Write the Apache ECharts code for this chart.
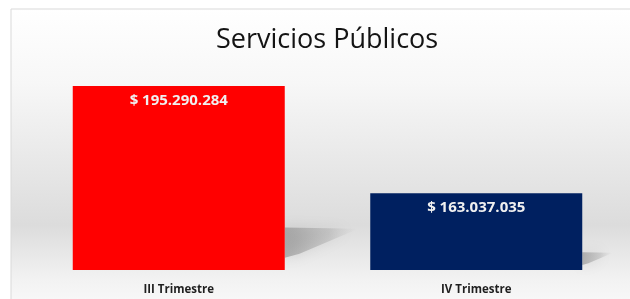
<!DOCTYPE html>
<html lang="es">

<head>
    <meta charset="utf-8" />
    <title>Servicios Públicos</title>
    <script src="https://cdn.jsdelivr.net/npm/echarts@6/dist/echarts.min.js"></script>
    <style>
        html,
        body {
            margin: 0;
            padding: 0;
            background: #ffffff;
        }

        #grafico {
            width: 630px;
            height: 299px;
        }
    </style>
</head>

<body>
    <div id="grafico"></div>

    <script>
        // datos
        var titulo = 'Servicios Públicos';
        var trimestres = ['III Trimestre', 'IV Trimestre'];
        var montos = [195290284, 163037035];
        var colores = ['#ff0000', '#002060'];

        // eje oculto, no empieza en cero
        var ejeMin = 140000000;
        var ejeMax = 203100000;

        function formatoPesos(v) {
            return '$ ' + String(v).replace(/\B(?=(\d{3})+(?!\d))/g, '.');
        }

        var myChart = echarts.init(document.getElementById('grafico'));

        // sombra en perspectiva detras de cada barra
        function dibujarSombra(params, api) {
            var idx = api.value(0);
            var tope = api.coord([idx, api.value(1)]);
            var base = api.coord([idx, ejeMin]);
            var ancho = api.size([1, 0])[0] * 0.713;
            var alto = base[1] - tope[1];
            var der = tope[0] + ancho / 2;
            var dx = alto * 0.4;
            var dy = alto * 0.22;
            return {
                type: 'polygon',
                shape: {
                    points: [
                        [der, base[1] - dy * 1.05],
                        [der + dx, base[1] - dy * 1.02],
                        [der + dx * 0.2, base[1] - dy * 0.4],
                        [der, base[1] - dy * 0.3]
                    ]
                },
                style: {
                    fill: new echarts.graphic.LinearGradient(0, 0, 1, 0, [
                        { offset: 0, color: 'rgba(110,110,110,0.45)' },
                        { offset: 0.6, color: 'rgba(130,130,130,0.25)' },
                        { offset: 1, color: 'rgba(170,170,170,0)' }
                    ]),
                    shadowBlur: 14,
                    shadowColor: 'rgba(110,110,110,0.45)'
                },
                z2: 0
            };
        }

        var option = {
            animation: false,
            backgroundColor: '#ffffff',
            graphic: [{
                type: 'rect',
                z: -10,
                shape: { x: 11, y: 9, width: 640, height: 300 },
                style: {
                    stroke: '#d9d9d9',
                    lineWidth: 1,
                    fill: new echarts.graphic.LinearGradient(0, 0, 0, 1, [
                        { offset: 0, color: '#ffffff' },
                        { offset: 0.25, color: '#f7f7f7' },
                        { offset: 0.72, color: '#dcdcdc' },
                        { offset: 0.9, color: '#f2f2f2' },
                        { offset: 1, color: '#fafafa' }
                    ])
                }
            }],
            title: {
                text: titulo,
                left: 211,
                top: 22,
                textStyle: {
                    fontFamily: 'Open Sans',
                    fontSize: 27,
                    fontWeight: 'normal',
                    color: '#141414'
                }
            },
            grid: {
                left: 30,
                right: 5,
                top: 60,
                bottom: 29
            },
            xAxis: {
                type: 'category',
                data: trimestres,
                axisLine: { show: false },
                axisTick: { show: false },
                axisLabel: {
                    margin: 14,
                    fontFamily: 'Open Sans',
                    fontSize: 11.5,
                    fontWeight: 'bold',
                    color: '#1f1f1f'
                }
            },
            yAxis: {
                type: 'value',
                min: ejeMin,
                max: ejeMax,
                show: false,
                splitLine: { show: false }
            },
            series: [{
                type: 'custom',
                renderItem: dibujarSombra,
                data: montos.map(function (v, i) { return [i, v]; }),
                z: 1,
                silent: true
            }, {
                type: 'bar',
                barWidth: 212,
                z: 2,
                data: montos.map(function (v, i) {
                    return { value: v, itemStyle: { color: colores[i] } };
                }),
                label: {
                    show: true,
                    position: 'insideTop',
                    distance: 7,
                    formatter: function (p) { return formatoPesos(p.value); },
                    fontFamily: 'Open Sans',
                    fontSize: 15,
                    fontWeight: 'bold',
                    color: '#f0f0f0'
                }
            }]
        };

        myChart.setOption(option);
    </script>
</body>

</html>
